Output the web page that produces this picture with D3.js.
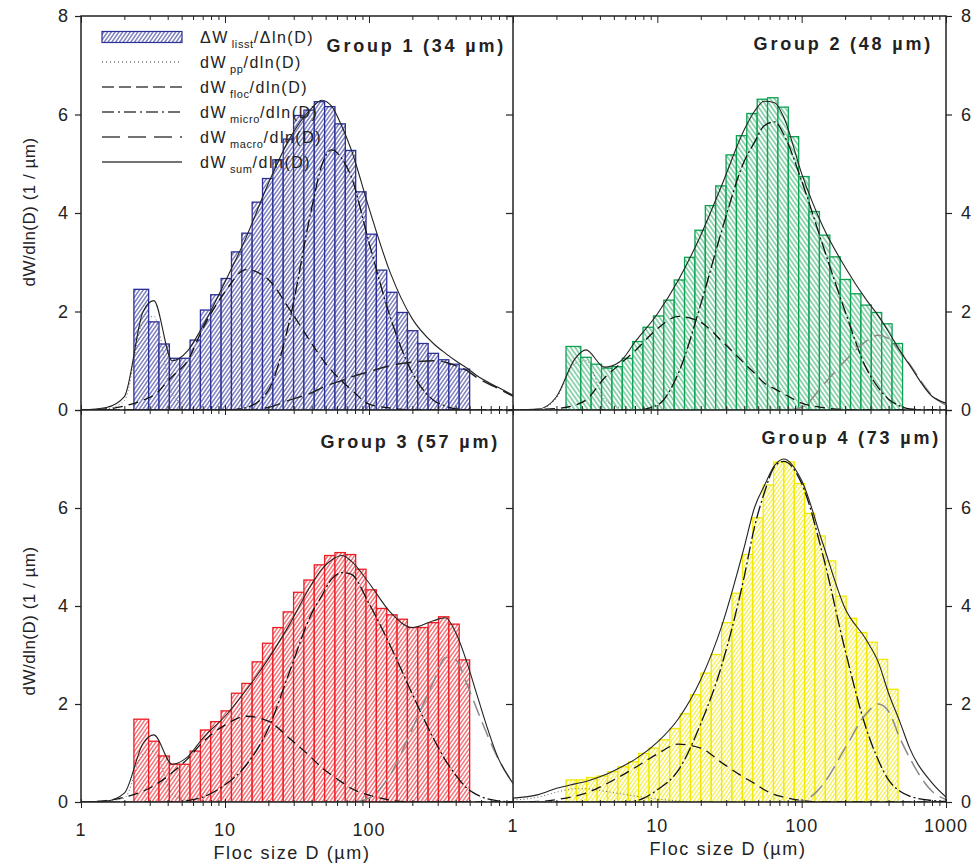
<!DOCTYPE html>
<html>
<head>
<meta charset="utf-8">
<script src="https://cdn.jsdelivr.net/npm/d3@7"></script>
<style>
  body { margin: 0; background: #fff; }
  svg { display: block; font-family: "Liberation Sans", Arial, sans-serif; }
</style>
</head>
<body>
<div id="chart"></div>
<script>
// LISST size bin edges (um); group 4 uses a slightly shifted set
const edgesA = [2.33, 2.95, 3.48, 4.11, 4.85, 5.72, 6.75, 7.96, 9.40, 11.09, 13.09, 15.44, 18.22, 21.50, 25.37, 29.94, 35.32, 41.68, 49.18, 58.04, 68.48, 80.81, 95.36, 112.5, 132.8, 156.7, 184.9, 218.2, 257.4, 303.8, 358.4, 423.0, 500];
const edgesB = [2.33, 2.75, 3.24, 3.83, 4.52, 5.33, 6.29, 7.42, 8.76, 10.33, 12.19, 14.39, 16.98, 20.04, 23.64, 27.90, 32.92, 38.84, 45.84, 54.09, 63.82, 75.31, 88.87, 104.9, 123.7, 146.0, 172.3, 203.3, 239.9, 283.1, 334.0, 394.2, 465.1];

// measured dW/dln(D) per bin
const bars1 = [2.45, 1.79, 1.34, 1.05, 1.05, 1.42, 2.03, 2.34, 2.67, 3.21, 3.59, 4.22, 4.70, 5.08, 5.50, 5.98, 6.09, 6.26, 6.16, 5.81, 5.27, 4.43, 3.57, 2.84, 2.39, 1.98, 1.61, 1.35, 1.15, 1.02, 0.93, 0.83];
const bars2 = [1.29, 1.07, 0.93, 0.85, 0.88, 1.05, 1.39, 1.68, 1.91, 2.23, 2.64, 3.10, 3.65, 4.15, 4.55, 5.18, 5.57, 6.02, 6.31, 6.34, 6.15, 5.55, 4.74, 4.03, 3.55, 3.11, 2.65, 2.36, 2.13, 1.98, 1.75, 1.35];
const bars3 = [1.69, 1.24, 0.94, 0.77, 0.77, 1.04, 1.47, 1.64, 1.86, 2.22, 2.42, 2.86, 3.24, 3.56, 3.88, 4.28, 4.53, 4.84, 5.03, 5.09, 5.05, 4.75, 4.33, 3.95, 3.82, 3.73, 3.56, 3.56, 3.66, 3.78, 3.63, 2.90];
const bars4 = [0.45, 0.45, 0.50, 0.53, 0.62, 0.72, 0.82, 0.99, 1.10, 1.27, 1.50, 1.80, 2.19, 2.63, 3.01, 3.66, 4.26, 5.05, 5.80, 6.47, 6.94, 6.94, 6.50, 5.89, 5.43, 4.92, 4.20, 3.75, 3.46, 3.26, 2.91, 2.30];

// sizes at which the fitted curves were read
const sampleD = [1, 1.5, 2, 2.7, 3.2, 4.3, 5.5, 7, 10, 14, 20, 28, 40, 47, 55, 65, 75, 100, 140, 200, 280, 340, 400, 480, 560, 800, 1000];

const pp1    = [0, 0.02, 0.19, 1.8, 1.9, 0.32, 0.08, 0.02, 0, 0, 0, 0, 0, 0, 0, 0, 0, 0, 0, 0, 0, 0, 0, 0, 0, 0, 0];
const floc1  = [0, 0.02, 0.08, 0.2, 0.3, 0.68, 1.0, 1.65, 2.4, 2.85, 2.65, 2.05, 1.35, 1.05, 0.8, 0.58, 0.42, 0.12, 0.04, 0, 0, 0, 0, 0, 0, 0, 0];
const micro1 = [0, 0, 0, 0, 0, 0, 0, 0, 0, 0.05, 0.4, 1.8, 4.1, 4.97, 5.28, 5.1, 4.75, 3.4, 1.9, 0.75, 0.2, 0.08, 0.02, 0, 0, 0, 0];
const macro1 = [0, 0, 0, 0, 0, 0, 0, 0, 0, 0, 0.05, 0.2, 0.35, 0.45, 0.53, 0.6, 0.67, 0.78, 0.9, 0.97, 1.0, 0.97, 0.9, 0.8, 0.66, 0.43, 0.28];
const sum1   = [0, 0.05, 0.27, 2.0, 2.22, 1.0, 1.2, 1.7, 2.6, 3.5, 4.6, 5.5, 6.13, 6.29, 6.17, 5.75, 5.3, 4.1, 2.8, 1.85, 1.35, 1.15, 1.0, 0.85, 0.7, 0.45, 0.3];

const pp2    = [0, 0.01, 0.24, 0.95, 1.0, 0.22, 0.05, 0, 0, 0, 0, 0, 0, 0, 0, 0, 0, 0, 0, 0, 0, 0, 0, 0, 0, 0, 0];
const floc2  = [0, 0.01, 0.03, 0.1, 0.2, 0.65, 0.93, 1.2, 1.65, 1.9, 1.78, 1.4, 0.95, 0.75, 0.55, 0.43, 0.33, 0.14, 0.05, 0.01, 0, 0, 0, 0, 0, 0, 0];
const micro2 = [0, 0, 0, 0, 0, 0, 0, 0, 0.1, 0.75, 2.15, 3.65, 5.05, 5.43, 5.77, 5.85, 5.6, 4.65, 3.35, 2.0, 0.85, 0.45, 0.22, 0.08, 0.02, 0, 0];
const macro2 = [0, 0, 0, 0, 0, 0, 0, 0, 0, 0, 0, 0, 0, 0, 0, 0, 0, 0.05, 0.5, 1.0, 1.4, 1.52, 1.45, 1.2, 0.93, 0.3, 0.1];
const sum2   = [0, 0.02, 0.27, 1.05, 1.22, 0.87, 0.98, 1.38, 1.95, 2.64, 3.55, 4.57, 5.69, 6.06, 6.27, 6.24, 5.95, 4.8, 3.73, 2.9, 2.24, 1.91, 1.59, 1.2, 0.91, 0.28, 0.14];

const pp3    = [0, 0.02, 0.08, 0.98, 1.04, 0.16, 0.03, 0, 0, 0, 0, 0, 0, 0, 0, 0, 0, 0, 0, 0, 0, 0, 0, 0, 0, 0, 0];
const floc3  = [0, 0.03, 0.1, 0.22, 0.33, 0.6, 0.88, 1.22, 1.57, 1.75, 1.65, 1.3, 0.9, 0.7, 0.55, 0.4, 0.28, 0.14, 0.04, 0, 0, 0, 0, 0, 0, 0, 0];
const micro3 = [0, 0, 0, 0, 0, 0, 0.03, 0.1, 0.35, 0.75, 1.5, 2.65, 3.85, 4.21, 4.55, 4.68, 4.65, 4.05, 3.2, 2.2, 1.3, 0.85, 0.55, 0.28, 0.15, 0.02, 0];
const macro3 = [0, 0, 0, 0, 0, 0, 0, 0, 0, 0, 0, 0, 0, 0, 0, 0, 0, 0.08, 0.55, 1.5, 2.45, 2.95, 2.9, 2.4, 1.9, 0.85, 0.38];
const sum3   = [0, 0.02, 0.18, 1.2, 1.37, 0.77, 0.92, 1.3, 1.75, 2.28, 2.92, 3.62, 4.45, 4.75, 4.94, 5.03, 4.92, 4.47, 3.88, 3.56, 3.7, 3.76, 3.46, 2.84, 2.2, 0.86, 0.38];

const pp4    = [0.04, 0.1, 0.2, 0.27, 0.27, 0.22, 0.17, 0.12, 0.06, 0.02, 0, 0, 0, 0, 0, 0, 0, 0, 0, 0, 0, 0, 0, 0, 0, 0, 0];
const floc4  = [0, 0.01, 0.05, 0.12, 0.18, 0.35, 0.52, 0.7, 0.98, 1.18, 1.1, 0.8, 0.5, 0.38, 0.25, 0.15, 0.1, 0.03, 0, 0, 0, 0, 0, 0, 0, 0, 0];
const micro4 = [0, 0, 0, 0, 0, 0, 0, 0.02, 0.25, 0.65, 1.6, 2.8, 4.6, 5.6, 6.3, 6.85, 6.95, 6.5, 5.05, 3.1, 1.5, 0.85, 0.45, 0.22, 0.12, 0.03, 0.01];
const macro4 = [0, 0, 0, 0, 0, 0, 0, 0, 0, 0, 0, 0, 0, 0, 0, 0, 0, 0.02, 0.35, 1.1, 1.8, 2.0, 1.85, 1.3, 0.9, 0.22, 0.05];
const sum4   = [0.08, 0.15, 0.28, 0.37, 0.42, 0.55, 0.7, 0.87, 1.22, 1.7, 2.5, 3.6, 5.2, 6.0, 6.45, 6.87, 7.0, 6.56, 5.28, 3.95, 3.31, 2.85, 2.22, 1.63, 1.1, 0.39, 0.1];

const groupTitles = ["Group 1 (34 \u00b5m)", "Group 2 (48 \u00b5m)", "Group 3 (57 \u00b5m)", "Group 4 (73 \u00b5m)"];
const xTickLabelsLeft = [1, 10, 100];
const xTickLabelsRight = [1, 10, 100, 1000];
const yTicks = [0, 2, 4, 6, 8];

//set svg size and frame
let w = 978, h = 865;
let xL0 = 81, xMid = 513, xR1 = 946;
let yTop = 16, yMid = 410, yBot = 802;
let font = "'Liberation Sans', Arial, sans-serif";

let xLeft = d3.scaleLog().domain([1, 1000]).range([xL0, xMid]);
let xRight = d3.scaleLog().domain([1, 1000]).range([xMid, xR1]);
let yUpper = d3.scaleLinear().domain([0, 8]).range([yMid, yTop]);
let yLower = d3.scaleLinear().domain([0, 8]).range([yBot, yMid]);

let svg = d3.select("#chart").append("svg")
    .attr("width", w)
    .attr("height", h);

let defs = svg.append("defs");

//hatch patterns
function hatch(id, color, angle, gap, sw) {
    let p = defs.append("pattern")
        .attr("id", id)
        .attr("patternUnits", "userSpaceOnUse")
        .attr("width", gap)
        .attr("height", 10)
        .attr("patternTransform", `rotate(${angle})`);
    p.append("rect").attr("width", gap).attr("height", 10).attr("fill", "#fff");
    p.append("line")
        .attr("x1", gap / 2).attr("y1", 0)
        .attr("x2", gap / 2).attr("y2", 10)
        .attr("stroke", color)
        .attr("stroke-width", sw);
}

let panels = [
    { bars: bars1, edges: edgesA, x: xLeft, y: yUpper, color: "#2b2f96", hatch: "h1", angle: 35, gap: 3.1,
      pp: pp1, floc: floc1, micro: micro1, macro: macro1, sum: sum1, macroColor: "#222",
      title: groupTitles[0], tx: 506, ty: 52 },
    { bars: bars2, edges: edgesA, x: xRight, y: yUpper, color: "#0aa150", hatch: "h2", angle: -35, gap: 3.6,
      pp: pp2, floc: floc2, micro: micro2, macro: macro2, sum: sum2, macroColor: "#8a8a8a",
      title: groupTitles[1], tx: 933, ty: 50 },
    { bars: bars3, edges: edgesA, x: xLeft, y: yLower, color: "#ec1c24", hatch: "h3", angle: 35, gap: 3.1,
      pp: pp3, floc: floc3, micro: micro3, macro: macro3, sum: sum3, macroColor: "#8a8a8a",
      title: groupTitles[2], tx: 500, ty: 448 },
    { bars: bars4, edges: edgesB, x: xRight, y: yLower, color: "#f2e900", hatch: "h4", angle: 35, gap: 3.1,
      pp: pp4, floc: floc4, micro: micro4, macro: macro4, sum: sum4, macroColor: "#8a8a8a",
      title: groupTitles[3], tx: 941, ty: 444 }
];

panels.forEach(p => hatch(p.hatch, p.color, p.angle, p.gap, 0.9));

let styles = {
    pp:    { dash: "1,2.5", width: 1, color: "#666" },
    floc:  { dash: "10,6", width: 1.3, color: "#111" },
    micro: { dash: "13,3,2,3", width: 1.3, color: "#111" },
    macro: { dash: "16,7", width: 1.5 },
    sum:   { dash: null, width: 1.1, color: "#222" }
};

panels.forEach((p, i) => {
    let [x0, x1] = p.x.range();
    let [y0, y1] = p.y.range();
    defs.append("clipPath").attr("id", "clip" + i)
        .append("rect")
        .attr("x", x0).attr("y", y1)
        .attr("width", x1 - x0).attr("height", y0 - y1);

    let g = svg.append("g").attr("clip-path", `url(#clip${i})`);

    //bars
    g.append("g")
        .selectAll("rect")
        .data(p.bars)
        .enter()
        .append("rect")
        .attr("x", (d, k) => p.x(p.edges[k]))
        .attr("width", (d, k) => p.x(p.edges[k + 1]) - p.x(p.edges[k]))
        .attr("y", d => p.y(d))
        .attr("height", d => p.y(0) - p.y(d))
        .attr("fill", `url(#${p.hatch})`)
        .attr("stroke", p.color)
        .attr("stroke-width", 1.3);

    //model curves
    ["pp", "floc", "micro", "macro", "sum"].forEach(key => {
        let st = styles[key];
        let pts = sampleD.map((D, k) => ({ D: D, v: p[key][k] }));
        let line = d3.line()
            .x(d => p.x(d.D))
            .y(d => p.y(d.v))
            .curve(d3.curveMonotoneX);
        g.append("path")
            .datum(pts)
            .attr("d", line)
            .attr("fill", "none")
            .attr("stroke", key === "macro" ? p.macroColor : st.color)
            .attr("stroke-width", st.width)
            .attr("stroke-dasharray", st.dash);
    });

    //group title
    svg.append("text")
        .attr("x", p.tx)
        .attr("y", p.ty)
        .attr("text-anchor", "end")
        .attr("font-size", "18px")
        .attr("font-weight", "bold")
        .attr("letter-spacing", "2.8px")
        .attr("fill", "#222")
        .text(p.title);
});

//frame
let frame = svg.append("g").attr("stroke", "#222").attr("stroke-width", 1.5).attr("fill", "none");
frame.append("rect").attr("x", xL0).attr("y", yTop).attr("width", xR1 - xL0).attr("height", yBot - yTop);
frame.append("line").attr("x1", xMid).attr("x2", xMid).attr("y1", yTop).attr("y2", yBot);
frame.append("line").attr("x1", xL0).attr("x2", xR1).attr("y1", yMid).attr("y2", yMid);

//x ticks (major and minor), on top, middle and bottom lines
function xTicks(scale, yPos, dir, majorLen, minorLen) {
    let all = scale.ticks();
    let majors = all.filter(v => Math.abs(Math.log10(v) - Math.round(Math.log10(v))) < 1e-6);
    let minors = all.filter(v => majors.indexOf(v) < 0);
    let axisFn = dir > 0 ? d3.axisBottom : d3.axisTop;
    [[majors, majorLen], [minors, minorLen]].forEach(([vals, len]) => {
        let ax = svg.append("g")
            .attr("transform", `translate(0, ${yPos})`)
            .call(axisFn(scale).tickValues(vals).tickSize(len).tickFormat(""));
        ax.select(".domain").remove();
        ax.selectAll("line").attr("stroke", "#222").attr("stroke-width", 1);
    });
}
[xLeft, xRight].forEach(s => {
    xTicks(s, yTop, 1, 7, 4);
    xTicks(s, yMid, 1, 5, 4);
    xTicks(s, yMid, -1, 5, 4);
    xTicks(s, yBot, 1, 6, 4);
    xTicks(s, yBot, -1, 3, 2);
});

//x tick labels
svg.append("g")
    .selectAll("text")
    .data(xTickLabelsLeft)
    .enter()
    .append("text")
    .attr("x", d => xLeft(d))
    .attr("y", 836)
    .attr("text-anchor", "middle")
    .attr("font-size", "18px")
    .attr("letter-spacing", "1px")
    .attr("fill", "#222")
    .text(d => d);

svg.append("g")
    .selectAll("text")
    .data(xTickLabelsRight)
    .enter()
    .append("text")
    .attr("x", d => xRight(d))
    .attr("y", 832)
    .attr("text-anchor", "middle")
    .attr("font-size", "18px")
    .attr("letter-spacing", "1px")
    .attr("fill", "#222")
    .text(d => d);

//y axes
function yAxis(gen, scale, xPos, labels, size, pad) {
    let ax = svg.append("g")
        .attr("transform", `translate(${xPos}, 0)`)
        .call(gen(scale).tickValues(yTicks).tickSize(size).tickPadding(pad)
            .tickFormat(d => labels.indexOf(d) >= 0 ? d : ""));
    ax.select(".domain").remove();
    ax.selectAll("line").attr("stroke", "#222").attr("stroke-width", 1.2);
    ax.selectAll("text")
        .attr("font-size", "18px")
        .attr("font-family", font)
        .attr("fill", "#222");
}
yAxis(d3.axisLeft, yUpper, xL0, [0, 2, 4, 6, 8], 6, 7);
yAxis(d3.axisLeft, yLower, xL0, [0, 2, 4, 6], 6, 7);
yAxis(d3.axisRight, yUpper, xR1, [0, 2, 4, 6, 8], 6, 9);
yAxis(d3.axisRight, yLower, xR1, [0, 2, 4, 6], 6, 9);
yAxis(d3.axisLeft, yUpper, xMid, [], 7, 0);
yAxis(d3.axisLeft, yLower, xMid, [], 7, 0);

//axis titles
[[292, 859], [728, 855]].forEach(([cx, cy]) => {
    svg.append("text")
        .attr("x", cx).attr("y", cy)
        .attr("text-anchor", "middle")
        .attr("font-size", "18px")
        .attr("letter-spacing", "1.6px")
        .attr("fill", "#222")
        .text("Floc size D (\u00b5m)");
});
[212, 621].forEach(cy => {
    svg.append("text")
        .attr("transform", `translate(35, ${cy}) rotate(-90)`)
        .attr("text-anchor", "middle")
        .attr("font-size", "17px")
        .attr("letter-spacing", "0.5px")
        .attr("fill", "#222")
        .text("dW/dln(D) (1 / \u00b5m)");
});

//legend
let legendRows = [
    { key: "lisst", pre: "\u0394W", sub: "lisst", post: "/\u0394ln(D)" },
    { key: "pp", pre: "dW", sub: "pp", post: "/dln(D)" },
    { key: "floc", pre: "dW", sub: "floc", post: "/dln(D)" },
    { key: "micro", pre: "dW", sub: "micro", post: "/dln(D)" },
    { key: "macro", pre: "dW", sub: "macro", post: "/dln(D)" },
    { key: "sum", pre: "dW", sub: "sum", post: "/dln(D)" }
];
let legendDash = { pp: "1,3", floc: "12,5", micro: "12,4,2,4", macro: "18,8", sum: null };
let legend = svg.append("g")
    .selectAll("g")
    .data(legendRows)
    .enter()
    .append("g")
    .attr("transform", (d, i) => `translate(0, ${37 + i * 25})`);

legend.each(function (d) {
    let row = d3.select(this);
    if (d.key === "lisst") {
        row.append("rect")
            .attr("x", 102).attr("y", -5.5)
            .attr("width", 80).attr("height", 11)
            .attr("fill", "url(#h1)")
            .attr("stroke", "#2b2f96")
            .attr("stroke-width", 1.2);
    } else {
        row.append("line")
            .attr("x1", 102).attr("x2", 182)
            .attr("y1", 0).attr("y2", 0)
            .attr("stroke", d.key === "pp" ? "#777" : "#444")
            .attr("stroke-width", 1.3)
            .attr("stroke-dasharray", legendDash[d.key]);
    }
    let t = row.append("text")
        .attr("x", 200).attr("y", 6)
        .attr("font-size", "16px")
        .attr("letter-spacing", "1.5px")
        .attr("fill", "#222");
    t.append("tspan").text(d.pre);
    t.append("tspan").attr("dx", 3).attr("dy", 5).attr("font-size", "11px").attr("letter-spacing", "0.6px").text(d.sub);
    t.append("tspan").attr("dy", -5).text(d.post);
});
</script>
</body>
</html>
